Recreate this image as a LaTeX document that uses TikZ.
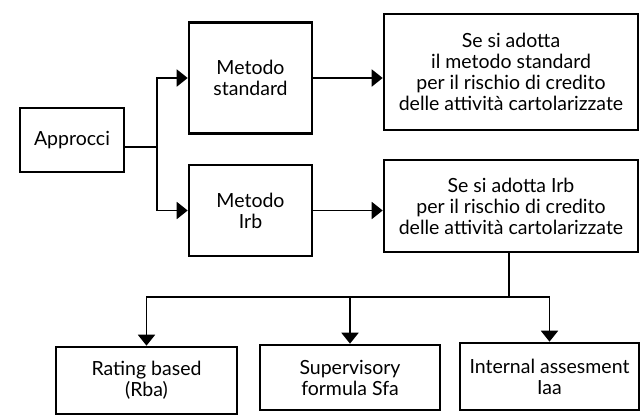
\documentclass[tikz,border=0pt]{standalone}
\usepackage{fontspec}
\setmainfont{Lato}
\usetikzlibrary{arrows.meta}
\begin{document}
\begin{tikzpicture}[x=1pt,y=-1pt,
  box/.style={draw=black,line width=2.6pt,align=center,inner sep=0pt,
    font=\fontsize{19.5}{21}\selectfont},
  link/.style={draw=black,line width=1.9pt},
  arr/.style={link,-{Triangle[length=11pt,width=17pt]}}]
\useasboundingbox[fill=white] (0,0) rectangle (641,416);
% boxes, given by corners
\node[box,minimum width=104pt,minimum height=64pt] (app) at (72,140) {Approcci};
\node[box,minimum width=123pt,minimum height=111pt] (std) at (250.5,78) {Metodo\\standard};
\node[box,minimum width=123pt,minimum height=91pt] (irb) at (250.5,210.5) {Metodo\\Irb};
\node[box,minimum width=254pt,minimum height=116pt] (stdr) at (511,72) {Se si adotta\\il metodo standard\\per il rischio di credito\\delle attività cartolarizzate};
\node[box,minimum width=254pt,minimum height=92pt] (irbr) at (511,206) {Se si adotta Irb\\per il rischio di credito\\delle attività cartolarizzate};
\node[box,minimum width=181pt,minimum height=67pt] (rba) at (146.5,380.5) {Rating based\\(Rba)};
\node[box,minimum width=180pt,minimum height=65pt] (sfa) at (350,377.5) {Supervisory\\formula Sfa};
\node[box,minimum width=179pt,minimum height=67pt] (iaa) at (549.5,376.5) {Internal assesment\\Iaa};
% junctions
\coordinate (split) at (157,147);
\coordinate (fork) at (509,297);
% connectors
\draw[link] (app.east |- split) -- (split);
\draw[arr] (split) |- (std.west);
\draw[arr] (split) |- (irb.west);
\draw[arr] (std.east) -- (stdr.west |- std.east);
\draw[arr] (irb.east) -- (irbr.west |- irb.east);
\draw[link] (irbr.south -| fork) -- (fork);
\draw[arr] (fork) -| (rba.north);
\draw[arr] (fork) -| (sfa.north);
\draw[arr] (fork) -| (iaa.north);
\end{tikzpicture}
\end{document}
